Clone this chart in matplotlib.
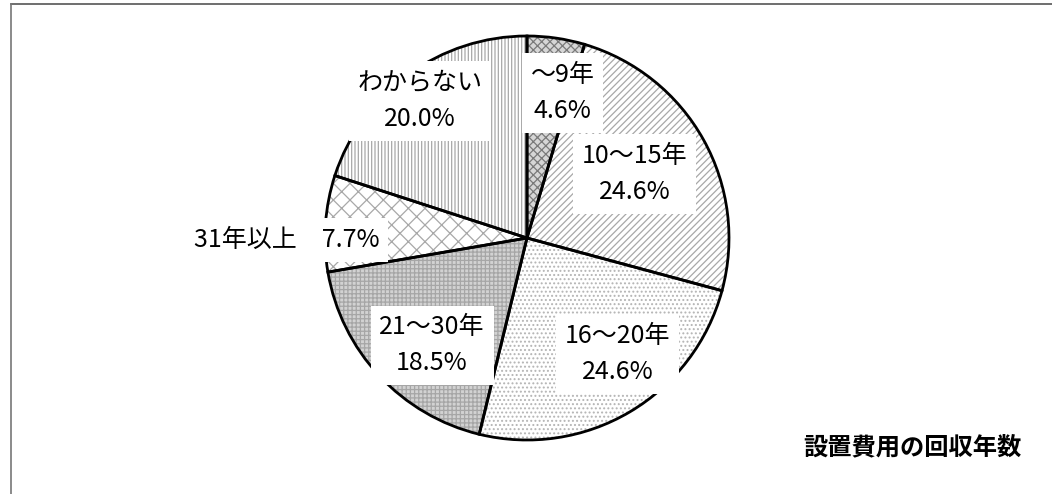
import numpy as np
import matplotlib
matplotlib.use("Agg")
import matplotlib.pyplot as plt
from matplotlib.lines import Line2D

plt.rcParams['font.family'] = ['Noto Sans CJK JP', 'DejaVu Sans']
plt.rcParams['hatch.linewidth'] = 0.9

# 設置費用の回収年数 (%)
categories = ['～9年', '10～15年', '16～20年', '21～30年', '31年以上', 'わからない']
shares = [4.6, 24.6, 24.6, 18.5, 7.7, 20.0]
title = '設置費用の回収年数'

# fill style per slice: face colour, hatch, hatch colour
faces = ['#d6d6d6', 'white', 'white', '#d2d2d2', 'white', 'white']
hatches = ['xxxx', '/////', '....', '++++', 'xx', '|||||']
hatch_cols = ['#7a7a7a', '#a8a8a8', '#b4b4b4', '#a6a6a6', '#a8a8a8', '#a8a8a8']

# label placement: radius (fraction of R) and angle shift (deg) from the slice middle
label_r = [0.74, 0.62, 0.73, 0.71, 0.73, 0.86]
label_shift = [-5.5, 1.5, 7.5, 5.5, 5.0, 2.0]

W, H = 1052, 494
fig = plt.figure(figsize=(W / 100, H / 100), dpi=100)

cx, cy, R = 527, 238, 202
ax = fig.add_axes([(cx - R) / W, (H - cy - R) / H, 2 * R / W, 2 * R / H])

# hatched fills first, then the black outlines on top
wedges, _ = ax.pie(shares, startangle=90, counterclock=False,
                   wedgeprops=dict(linewidth=0))
for w, fc, h, hc in zip(wedges, faces, hatches, hatch_cols):
    w.set_facecolor(fc)
    w.set_hatch(h)
    w.set_edgecolor(hc)

ax.pie(shares, startangle=90, counterclock=False,
       wedgeprops=dict(facecolor='none', edgecolor='black', linewidth=2.0))
ax.set_xlim(-1, 1)
ax.set_ylim(-1, 1)

box = dict(boxstyle='square,pad=0.35', facecolor='white', edgecolor='none')
cum = np.cumsum([0] + shares)
total = cum[-1]
for i, (cat, val) in enumerate(zip(categories, shares)):
    mid = 90 - 360 * (cum[i] + val / 2) / total + label_shift[i]
    x = label_r[i] * np.cos(np.radians(mid))
    y = label_r[i] * np.sin(np.radians(mid))
    if cat == '31年以上':
        ax.text(x, y, f'{cat}\u3000{val:.1f}%', ha='right', va='center',
                fontsize=18, bbox=box, zorder=5)
    else:
        ax.text(x, y, f'{cat}\n{val:.1f}%', ha='center', va='center',
                fontsize=18, linespacing=1.5, bbox=box, zorder=5)

fig.text(1022 / W, 1 - 447 / H, title, ha='right', va='center',
         fontsize=17.5, fontweight='bold')

# frame lines along the top and left
fig.add_artist(Line2D([11 / W, 1], [1 - 4 / H, 1 - 4 / H], color='#555555', lw=1.2))
fig.add_artist(Line2D([11 / W, 11 / W], [0, 1 - 4 / H], color='#777777', lw=1.2))

fig.savefig('out.png', dpi=100)
